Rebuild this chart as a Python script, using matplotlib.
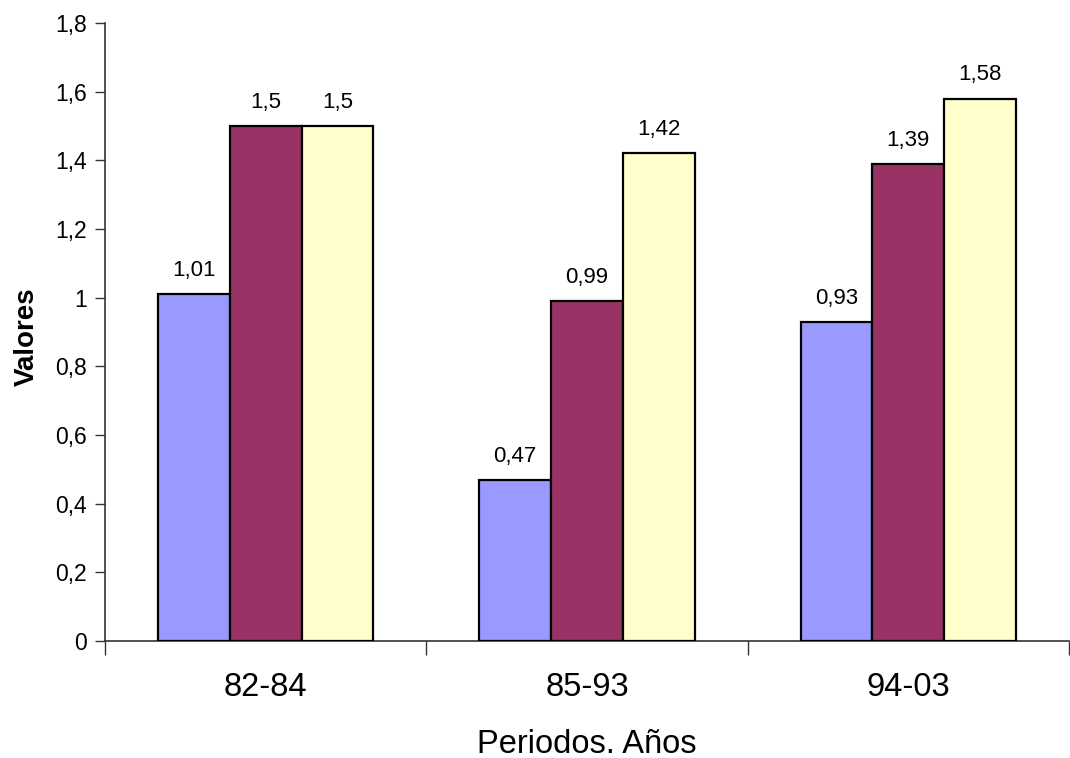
import numpy as np
import matplotlib.pyplot as plt
from matplotlib.ticker import FuncFormatter, FixedLocator

plt.rcParams["font.family"] = ["Liberation Sans", "DejaVu Sans"]

periods = ["82-84", "85-93", "94-03"]
serie_a = [1.01, 0.47, 0.93]
serie_b = [1.5, 0.99, 1.39]
serie_c = [1.5, 1.42, 1.58]

colors = ["#9999FF", "#993366", "#FFFFCC"]


def comma(v):
    return f"{v:g}".replace(".", ",")


fig = plt.figure(figsize=(10.7, 7.58), dpi=100)
ax = fig.add_axes([105 / 1070, 117 / 758, 964 / 1070, 618 / 758])

x = np.arange(len(periods))
w = 0.2236
for i, (vals, col) in enumerate(zip([serie_a, serie_b, serie_c], colors)):
    bars = ax.bar(x + (i - 1) * w, vals, width=w, color=col,
                  edgecolor="black", linewidth=1.6, zorder=3)
    for b, v in zip(bars, vals):
        ax.annotate(comma(v), (b.get_x() + b.get_width() / 2, v),
                    xytext=(0, 13), textcoords="offset points",
                    ha="center", va="baseline", fontsize=16)

ax.set_xlim(-0.5, 2.5)
ax.set_ylim(0, 1.8)
ax.set_yticks(np.arange(0, 1.81, 0.2))
ax.yaxis.set_major_formatter(FuncFormatter(lambda v, p: comma(round(v, 1))))
ax.tick_params(axis="y", direction="out", length=7, width=1, color="#333333",
               labelsize=16.5, pad=6)

ax.set_xticks(x)
ax.set_xticklabels(periods, fontsize=23.5)
ax.xaxis.set_minor_locator(FixedLocator([-0.5, 0.5, 1.5, 2.5]))
ax.tick_params(axis="x", which="major", length=0, pad=22)
ax.tick_params(axis="x", which="minor", direction="out", length=10, width=1,
               color="#333333")

for s in ["top", "right"]:
    ax.spines[s].set_visible(False)
for s in ["left", "bottom"]:
    ax.spines[s].set_color("#333333")
    ax.spines[s].set_linewidth(1.2)

ax.set_xlabel("Periodos. Años", fontsize=23.5)
ax.xaxis.set_label_coords(0.5, -0.167)
ax.xaxis.label.set_va("center")
ax.set_ylabel("Valores", fontsize=20, fontweight="bold")
ax.yaxis.set_label_coords(-0.081, 0.492)
ax.yaxis.label.set_va("center")

fig.savefig("out.png", dpi=100)
